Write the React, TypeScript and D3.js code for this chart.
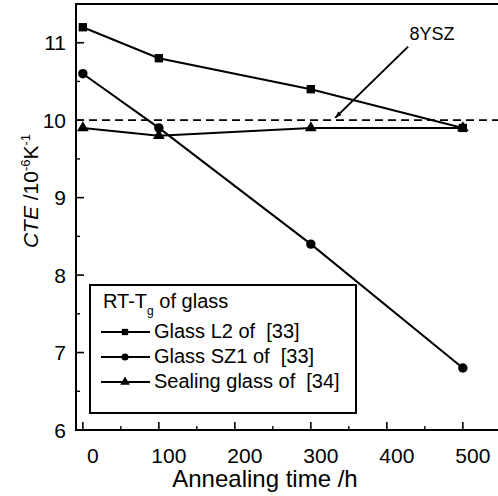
import * as React from 'react';
import * as d3 from 'd3';

// annealing time (h) and CTE (10^-6 K^-1)
const hours = [0, 100, 300, 500];
const glassL2 = [11.2, 10.8, 10.4, 9.9];
const glassSZ1 = [10.6, 9.9, 8.4, 6.8];
const sealingGlass = [9.9, 9.8, 9.9, 9.9];
const ysz = 10;

const xTicks = [0, 100, 200, 300, 400, 500];
const xMinor = [50, 150, 250, 350, 450, 550];
const yTicks = [6, 7, 8, 9, 10, 11];
const yMinor = [6.5, 7.5, 8.5, 9.5, 10.5, 11.5];

const series = [
  { name: 'Glass L2 of  [33]', values: glassL2, symbol: d3.symbolSquare, size: 70, legSize: 40 },
  { name: 'Glass SZ1 of  [33]', values: glassSZ1, symbol: d3.symbolCircle, size: 70, legSize: 40 },
  { name: 'Sealing glass of  [34]', values: sealingGlass, symbol: d3.symbolTriangle, size: 60, legSize: 40 },
];

const W = 498;
const H = 496;
const font = 'Arial, "Liberation Sans", Helvetica, sans-serif';

export default function App() {
  const x = d3.scaleLinear().domain([-9, 550]).range([76, 76 + 559 * 0.76]);
  const y = d3.scaleLinear().domain([6, 11.5]).range([430, 4]);
  const left = x(-9);
  const right = x(550);
  const top = y(11.5);
  const bottom = y(6);

  const line = d3.line<number>()
    .x((_, i) => x(hours[i]))
    .y(d => y(d));

  // annotation arrow for 8YSZ, in data coordinates
  const arrowFrom = [428, 10.95];
  const arrowTo = [332, 10.03];
  const ax1 = x(arrowFrom[0]), ay1 = y(arrowFrom[1]);
  const ax2 = x(arrowTo[0]), ay2 = y(arrowTo[1]);
  const ang = Math.atan2(ay2 - ay1, ax2 - ax1);
  const head = 7;
  const headPts = [
    [ax2, ay2],
    [ax2 - head * Math.cos(ang - 0.35), ay2 - head * Math.sin(ang - 0.35)],
    [ax2 - head * Math.cos(ang + 0.35), ay2 - head * Math.sin(ang + 0.35)],
  ].map(p => p.join(',')).join(' ');

  const legX = 90, legY = 285, legW = 266, legH = 128;

  return (
    <svg width={W} height={H} style={{ position: 'absolute', left: 0, top: 0, background: '#fff' }}
      fontFamily={font}>
      <defs>
        <clipPath id="plot">
          <rect x={left} y={top} width={W - left} height={bottom - top} />
        </clipPath>
      </defs>

      {/* frame */}
      <rect x={left} y={top} width={right - left} height={bottom - top}
        fill="none" stroke="#000" strokeWidth={2} />

      {/* ticks */}
      {xTicks.map(t => (
        <g key={'xt' + t}>
          <line x1={x(t)} x2={x(t)} y1={bottom} y2={bottom - 8} stroke="#000" strokeWidth={1.6} />
          <text x={x(t) + 10} y={463} textAnchor="middle" fontSize={21}>{t}</text>
        </g>
      ))}
      {xMinor.map(t => (
        <line key={'xm' + t} x1={x(t)} x2={x(t)} y1={bottom} y2={bottom - 4} stroke="#000" strokeWidth={1.4} />
      ))}
      {yTicks.map(t => (
        <g key={'yt' + t}>
          <line x1={left} x2={left + 8} y1={y(t)} y2={y(t)} stroke="#000" strokeWidth={1.6} />
          <text x={66} y={y(t) + 7.5} textAnchor="end" fontSize={21}>{t}</text>
        </g>
      ))}
      {yMinor.map(t => (
        <line key={'ym' + t} x1={left} x2={left + 4} y1={y(t)} y2={y(t)} stroke="#000" strokeWidth={1.4} />
      ))}

      {/* axis titles */}
      <text x={265} y={487} textAnchor="middle" fontSize={24}>Annealing time /h</text>
      <text transform={`translate(38,191) rotate(-90)`} textAnchor="middle" fontSize={21}>
        <tspan fontStyle="italic">CTE</tspan>
        <tspan> /10</tspan>
        <tspan dy={-8} fontSize={13}>-6</tspan>
        <tspan dy={8}>K</tspan>
        <tspan dy={-8} fontSize={13}>-1</tspan>
      </text>

      <g clipPath="url(#plot)">
        {/* 8YSZ reference */}
        <line x1={left} x2={W} y1={y(ysz)} y2={y(ysz)} stroke="#000" strokeWidth={1.8} strokeDasharray="8 5" />

        {series.map(s => (
          <g key={s.name}>
            <path d={line(s.values) || ''} fill="none" stroke="#000" strokeWidth={2} />
            {s.values.map((v, i) => (
              <path key={i} transform={`translate(${x(hours[i])},${y(v)})`}
                d={d3.symbol().type(s.symbol).size(s.size)() || ''} fill="#000" />
            ))}
          </g>
        ))}
      </g>

      {/* annotation */}
      <line x1={ax1} y1={ay1} x2={ax2} y2={ay2} stroke="#000" strokeWidth={2} />
      <polygon points={headPts} fill="#000" />
      <text x={432} y={40} textAnchor="middle" fontSize={18}>8YSZ</text>

      {/* legend */}
      <rect x={legX} y={legY} width={legW} height={legH} fill="#fff" stroke="#000" strokeWidth={2} />
      <text x={103} y={308} fontSize={20}>
        RT-T<tspan dy={7} fontSize={12}>g</tspan><tspan dy={-7}> of glass</tspan>
      </text>
      {series.map((s, i) => {
        const ry = 338 + i * 25;
        return (
          <g key={'leg' + s.name}>
            <line x1={101} x2={150} y1={ry - 6} y2={ry - 6} stroke="#000" strokeWidth={2} />
            <path transform={`translate(125,${ry - 6})`}
              d={d3.symbol().type(s.symbol).size(s.legSize)() || ''} fill="#000" />
            <text x={154} y={ry} fontSize={20} style={{ whiteSpace: 'pre' }}>{s.name}</text>
          </g>
        );
      })}
    </svg>
  );
}
